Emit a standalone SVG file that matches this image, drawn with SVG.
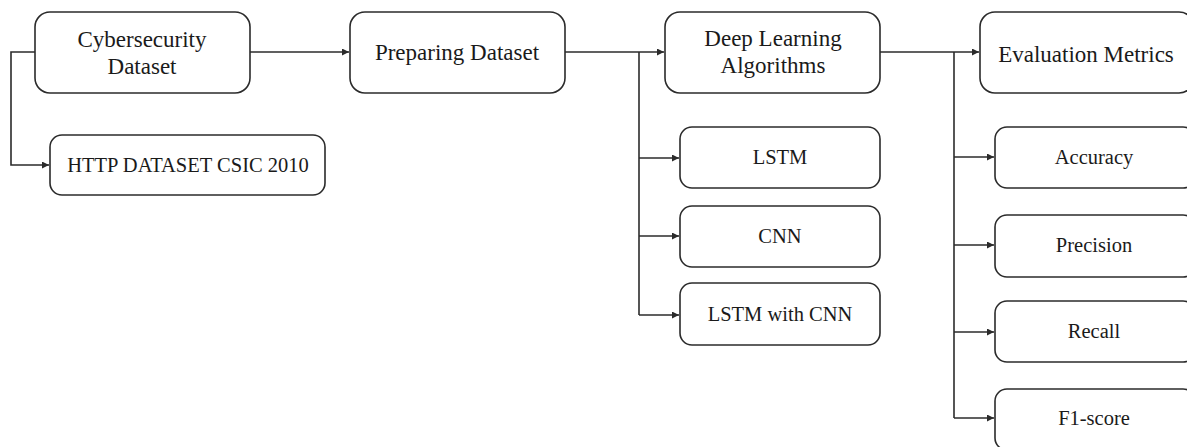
<svg xmlns="http://www.w3.org/2000/svg" width="1187" height="447" viewBox="0 0 1187 447">
  <style>
    .box { fill: #ffffff; stroke: #2b2b2b; stroke-width: 1.6; }
    .wire { fill: none; stroke: #2b2b2b; stroke-width: 1.6; }
    .title { font-family: "Liberation Serif", "Times New Roman", serif; font-size: 23px; fill: #1a1a1a; text-anchor: middle; }
    .item { font-family: "Liberation Serif", "Times New Roman", serif; font-size: 20.5px; fill: #1a1a1a; text-anchor: middle; }
  </style>
  <defs>
    <marker id="arrow" markerUnits="userSpaceOnUse" markerWidth="8" markerHeight="8" refX="7" refY="3.5" orient="auto">
      <path d="M0,0 L7,3.5 L0,7 z" fill="#2b2b2b"/>
    </marker>
  </defs>
  <rect width="1187" height="447" fill="#ffffff"/>

  <g id="connectors">
    <path class="wire" d="M35,52 H11 V165 H49" marker-end="url(#arrow)"/>
    <path class="wire" d="M250,52 H349" marker-end="url(#arrow)"/>
    <path class="wire" d="M565,52 H664" marker-end="url(#arrow)"/>
    <path class="wire" d="M639,52 V315"/>
    <path class="wire" d="M639,158 H679" marker-end="url(#arrow)"/>
    <path class="wire" d="M639,236 H679" marker-end="url(#arrow)"/>
    <path class="wire" d="M639,315 H679" marker-end="url(#arrow)"/>
    <path class="wire" d="M880,52 H979" marker-end="url(#arrow)"/>
    <path class="wire" d="M954,52 V418"/>
    <path class="wire" d="M954,157 H994" marker-end="url(#arrow)"/>
    <path class="wire" d="M954,245 H994" marker-end="url(#arrow)"/>
    <path class="wire" d="M954,332 H994" marker-end="url(#arrow)"/>
    <path class="wire" d="M954,418 H994" marker-end="url(#arrow)"/>
  </g>

  <g id="cybersecurity-dataset">
    <rect class="box" x="35" y="12" width="215" height="81" rx="15"/>
    <text class="title" x="142" y="47">Cybersecurity</text>
    <text class="title" x="142" y="74">Dataset</text>
  </g>
  <g id="http-dataset">
    <rect class="box" x="50" y="135" width="275" height="60" rx="12"/>
    <text class="item" x="188" y="172">HTTP DATASET CSIC 2010</text>
  </g>
  <g id="preparing-dataset">
    <rect class="box" x="350" y="12" width="215" height="81" rx="15"/>
    <text class="title" x="457" y="60">Preparing Dataset</text>
  </g>
  <g id="deep-learning">
    <rect class="box" x="665" y="12" width="215" height="81" rx="15"/>
    <text class="title" x="773" y="46">Deep Learning</text>
    <text class="title" x="773" y="73">Algorithms</text>
  </g>
  <g id="lstm">
    <rect class="box" x="680" y="127" width="200" height="61" rx="12"/>
    <text class="item" x="780" y="164">LSTM</text>
  </g>
  <g id="cnn">
    <rect class="box" x="680" y="206" width="200" height="61" rx="12"/>
    <text class="item" x="780" y="243">CNN</text>
  </g>
  <g id="lstm-cnn">
    <rect class="box" x="680" y="283" width="200" height="62" rx="12"/>
    <text class="item" x="780" y="321">LSTM with CNN</text>
  </g>
  <g id="evaluation-metrics">
    <rect class="box" x="980" y="12" width="214" height="81" rx="15"/>
    <text class="title" x="1086" y="62">Evaluation Metrics</text>
  </g>
  <g id="accuracy">
    <rect class="box" x="995" y="127" width="200" height="61" rx="12"/>
    <text class="item" x="1094" y="164">Accuracy</text>
  </g>
  <g id="precision">
    <rect class="box" x="995" y="215" width="200" height="62" rx="12"/>
    <text class="item" x="1094" y="252">Precision</text>
  </g>
  <g id="recall">
    <rect class="box" x="995" y="301" width="200" height="61" rx="12"/>
    <text class="item" x="1094" y="338">Recall</text>
  </g>
  <g id="f1-score">
    <rect class="box" x="995" y="389" width="200" height="61" rx="12"/>
    <text class="item" x="1094" y="425">F1-score</text>
  </g>
</svg>
